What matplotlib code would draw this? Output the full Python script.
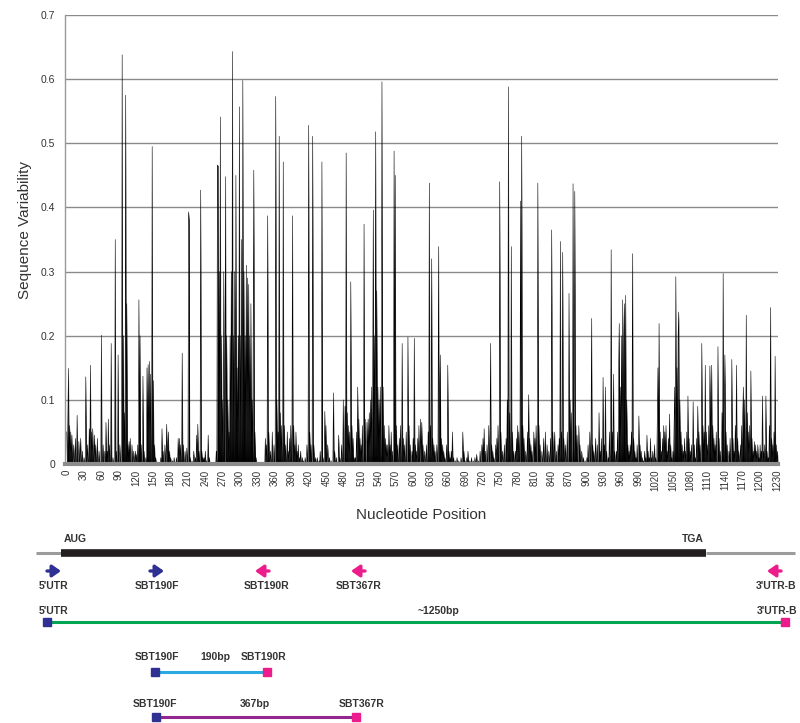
import matplotlib
matplotlib.use("Agg")
import matplotlib.pyplot as plt
import numpy as np

plt.rcParams["font.family"] = ["Liberation Sans", "DejaVu Sans"]

# Sequence variability as (nucleotide position, value).
# Positions not listed sit at ~0.
peaks_0_299 = [
    (0, 0.05), (2, 0.07), (3, 0.149), (5, 0.06), (7, 0.05), (9, 0.045), (12, 0.03), (15, 0.04),
    (18, 0.076), (21, 0.035), (24, 0.04), (27, 0.02), (30, 0.01), (33, 0.136), (36, 0.03),
    (39, 0.055), (41, 0.154), (43, 0.05), (45, 0.055), (48, 0.045), (50, 0.03), (53, 0.04),
    (56, 0.02), (60, 0.201), (63, 0.03), (66, 0.02), (68, 0.065), (70, 0.02), (72, 0.07),
    (74, 0.03), (77, 0.188), (80, 0.01), (84, 0.35), (86, 0.02), (89, 0.17), (92, 0.03),
    (96, 0.638), (98, 0.2), (100, 0.08), (102, 0.575), (104, 0.25), (106, 0.03), (108, 0.035),
    (110, 0.04), (113, 0.03), (116, 0.02), (119, 0.02), (121, 0.015), (123, 0.03), (125, 0.256),
    (127, 0.2), (129, 0.03), (132, 0.137), (134, 0.02), (137, 0.01), (139, 0.15), (141, 0.155),
    (143, 0.16), (145, 0.14), (148, 0.495), (150, 0.13), (152, 0.03), (154, 0.01), (163, 0.01),
    (165, 0.055), (167, 0.02), (170, 0.03), (173, 0.062), (175, 0.03), (176, 0.05), (178, 0.02),
    (180, 0.01), (183, 0.005), (186, 0.01), (190, 0.01), (193, 0.04), (195, 0.04), (197, 0.03),
    (200, 0.173), (202, 0.03), (205, 0.02), (208, 0.025), (211, 0.393), (212, 0.38), (214, 0.01),
    (217, 0.005), (220, 0.02), (223, 0.01), (225, 0.045), (227, 0.062), (229, 0.02), (232, 0.427),
    (234, 0.02), (236, 0.01), (238, 0.01), (240, 0.02), (242, 0.005), (245, 0.045), (247, 0.01),
    (259, 0.02), (261, 0.466), (262, 0.465), (264, 0.3), (266, 0.541), (268, 0.2), (270, 0.1),
    (272, 0.3), (275, 0.448), (277, 0.2), (279, 0.1), (281, 0.05), (283, 0.2), (285, 0.3),
    (287, 0.643), (289, 0.2), (291, 0.3), (293, 0.45), (295, 0.15), (297, 0.2), (299, 0.557),
]
peaks_300_599 = [
    (301, 0.2), (303, 0.35), (305, 0.598), (307, 0.3), (309, 0.2), (311, 0.31), (313, 0.29),
    (315, 0.28), (317, 0.2), (319, 0.25), (321, 0.1), (323, 0.2), (324, 0.458), (326, 0.05),
    (328, 0.01), (344, 0.04), (346, 0.03), (348, 0.387), (350, 0.05), (353, 0.02), (356, 0.05),
    (359, 0.03), (362, 0.573), (364, 0.1), (366, 0.05), (368, 0.511), (370, 0.08), (372, 0.06),
    (375, 0.471), (377, 0.06), (379, 0.03), (382, 0.05), (384, 0.02), (386, 0.04), (388, 0.06),
    (391, 0.387), (393, 0.06), (395, 0.03), (397, 0.05), (399, 0.02), (401, 0.03), (403, 0.01),
    (405, 0.02), (408, 0.01), (410, 0.005), (413, 0.01), (416, 0.03), (419, 0.528), (421, 0.05),
    (423, 0.03), (426, 0.511), (428, 0.03), (431, 0.01), (434, 0.01), (437, 0.005), (439, 0.02),
    (442, 0.471), (444, 0.01), (447, 0.082), (449, 0.06), (452, 0.03), (455, 0.01), (458, 0.005),
    (462, 0.111), (464, 0.02), (467, 0.01), (471, 0.045), (473, 0.01), (476, 0.03), (479, 0.1),
    (482, 0.09), (484, 0.485), (486, 0.08), (488, 0.06), (490, 0.05), (492, 0.284), (494, 0.06),
    (496, 0.04), (498, 0.01), (500, 0.01), (502, 0.05), (504, 0.12), (506, 0.07), (508, 0.04),
    (510, 0.03), (512, 0.06), (515, 0.374), (517, 0.07), (520, 0.065), (522, 0.07), (524, 0.08),
    (526, 0.1), (528, 0.12), (530, 0.15), (531, 0.396), (533, 0.2), (535, 0.518), (537, 0.27),
    (539, 0.12), (541, 0.1), (543, 0.12), (545, 0.15), (546, 0.596), (548, 0.12), (550, 0.06),
    (552, 0.04), (554, 0.03), (556, 0.03), (558, 0.06), (560, 0.03), (562, 0.05), (564, 0.02),
    (567, 0.488), (569, 0.45), (571, 0.06), (573, 0.03), (576, 0.04), (578, 0.06), (581, 0.188),
    (583, 0.04), (585, 0.03), (588, 0.05), (591, 0.198), (593, 0.06), (595, 0.03), (598, 0.02),
]
peaks_600_899 = [
    (600, 0.04), (602, 0.196), (604, 0.03), (606, 0.02), (608, 0.04), (610, 0.06), (613, 0.07),
    (615, 0.065), (617, 0.03), (620, 0.02), (623, 0.03), (626, 0.05), (628, 0.438), (630, 0.06),
    (632, 0.32), (634, 0.04), (636, 0.03), (638, 0.02), (641, 0.03), (644, 0.339), (646, 0.12),
    (647, 0.17), (649, 0.04), (651, 0.03), (653, 0.02), (655, 0.01), (658, 0.03), (660, 0.154),
    (662, 0.02), (664, 0.01), (666, 0.02), (668, 0.05), (670, 0.01), (673, 0.005), (676, 0.01),
    (679, 0.005), (683, 0.01), (686, 0.05), (688, 0.02), (690, 0.005), (693, 0.01), (695, 0.02),
    (698, 0.005), (701, 0.01), (704, 0.005), (707, 0.01), (710, 0.015), (713, 0.005), (716, 0.02),
    (719, 0.03), (721, 0.04), (723, 0.055), (725, 0.02), (728, 0.03), (731, 0.06), (734, 0.188),
    (736, 0.03), (738, 0.02), (740, 0.01), (743, 0.03), (745, 0.04), (747, 0.06), (750, 0.44),
    (752, 0.05), (755, 0.02), (758, 0.03), (761, 0.04), (763, 0.1), (765, 0.588), (767, 0.08),
    (770, 0.339), (772, 0.05), (774, 0.02), (777, 0.02), (779, 0.04), (781, 0.06), (783, 0.05),
    (786, 0.41), (788, 0.511), (790, 0.06), (792, 0.04), (795, 0.02), (798, 0.05), (800, 0.108),
    (802, 0.04), (804, 0.03), (806, 0.02), (809, 0.05), (811, 0.04), (813, 0.06), (816, 0.438),
    (818, 0.06), (820, 0.03), (823, 0.02), (826, 0.04), (829, 0.05), (832, 0.03), (835, 0.02),
    (838, 0.04), (840, 0.365), (842, 0.05), (845, 0.05), (848, 0.02), (851, 0.03), (853, 0.04),
    (855, 0.347), (857, 0.05), (859, 0.33), (861, 0.04), (864, 0.03), (867, 0.05), (870, 0.266),
    (872, 0.1), (874, 0.08), (877, 0.437), (879, 0.1), (880, 0.425), (882, 0.06), (884, 0.045),
    (887, 0.06), (889, 0.03), (892, 0.02), (895, 0.01), (898, 0.005),
]
peaks_900_1235 = [
    (901, 0.01), (903, 0.03), (906, 0.05), (909, 0.227), (911, 0.03), (913, 0.02), (916, 0.04),
    (919, 0.03), (922, 0.08), (924, 0.02), (926, 0.04), (929, 0.135), (931, 0.03), (933, 0.12),
    (935, 0.02), (938, 0.01), (940, 0.05), (943, 0.334), (945, 0.05), (947, 0.14), (949, 0.02),
    (952, 0.02), (954, 0.05), (956, 0.15), (957, 0.219), (959, 0.12), (961, 0.2), (963, 0.256),
    (965, 0.2), (966, 0.25), (968, 0.263), (970, 0.1), (972, 0.03), (974, 0.02), (976, 0.03),
    (978, 0.05), (980, 0.328), (982, 0.04), (984, 0.02), (986, 0.01), (988, 0.03), (991, 0.075),
    (993, 0.03), (995, 0.02), (997, 0.01), (999, 0.005), (1001, 0.02), (1003, 0.01), (1005, 0.045),
    (1007, 0.02), (1009, 0.01), (1011, 0.04), (1013, 0.01), (1015, 0.02), (1018, 0.03),
    (1020, 0.01), (1023, 0.08), (1024, 0.15), (1026, 0.219), (1028, 0.05), (1030, 0.02),
    (1032, 0.04), (1034, 0.06), (1036, 0.05), (1038, 0.06), (1040, 0.02), (1042, 0.04),
    (1044, 0.078), (1046, 0.03), (1048, 0.01), (1050, 0.02), (1052, 0.06), (1053, 0.12),
    (1055, 0.292), (1057, 0.15), (1059, 0.2), (1060, 0.237), (1062, 0.1), (1064, 0.05),
    (1066, 0.03), (1068, 0.02), (1070, 0.04), (1072, 0.02), (1074, 0.05), (1076, 0.106),
    (1078, 0.04), (1080, 0.02), (1082, 0.03), (1085, 0.097), (1087, 0.03), (1089, 0.01),
    (1091, 0.04), (1093, 0.09), (1095, 0.05), (1097, 0.03), (1100, 0.188), (1102, 0.06),
    (1104, 0.05), (1106, 0.154), (1108, 0.05), (1110, 0.03), (1112, 0.06), (1114, 0.153),
    (1115, 0.08), (1117, 0.154), (1119, 0.06), (1121, 0.04), (1123, 0.03), (1125, 0.05),
    (1128, 0.183), (1130, 0.04), (1132, 0.02), (1135, 0.08), (1137, 0.297), (1139, 0.1),
    (1140, 0.17), (1142, 0.05), (1144, 0.03), (1147, 0.02), (1149, 0.04), (1152, 0.163),
    (1154, 0.04), (1156, 0.02), (1158, 0.06), (1160, 0.154), (1162, 0.04), (1164, 0.02),
    (1167, 0.03), (1169, 0.06), (1171, 0.08), (1172, 0.12), (1174, 0.1), (1177, 0.232),
    (1179, 0.08), (1181, 0.05), (1183, 0.06), (1185, 0.145), (1187, 0.04), (1189, 0.02),
    (1191, 0.035), (1193, 0.03), (1195, 0.02), (1197, 0.03), (1199, 0.01), (1201, 0.03),
    (1203, 0.02), (1205, 0.106), (1207, 0.02), (1209, 0.03), (1211, 0.106), (1213, 0.02),
    (1215, 0.01), (1217, 0.06), (1219, 0.244), (1221, 0.04), (1223, 0.03), (1225, 0.05),
    (1227, 0.168), (1229, 0.03), (1231, 0.02),
]
n_positions = 1236

x_ticks = list(range(0, 1231, 30))
y_ticks = [0.0, 0.1, 0.2, 0.3, 0.4, 0.5, 0.6, 0.7]
y_tick_labels = ["0", "0.1", "0.2", "0.3", "0.4", "0.5", "0.6", "0.7"]

# primer map below the chart
primer_names = ["5'UTR", "SBT190F", "SBT190R", "SBT367R", "3'UTR-B"]
primer_forward = [True, True, False, False, False]
amplicons = [("5'UTR", "~1250bp", "3'UTR-B"), ("SBT190F", "190bp", "SBT190R"),
             ("SBT190F", "367bp", "SBT367R")]

BLUE = "#2e3192"
PINK = "#ec1c8c"
TEXT = "#333333"

variability = np.zeros(n_positions)
for pos, val in peaks_0_299 + peaks_300_599 + peaks_600_899 + peaks_900_1235:
    variability[pos] = val
positions = np.arange(n_positions)

W, H = 800, 723
fig = plt.figure(figsize=(W / 100, H / 100), dpi=100)
ax = fig.add_axes([65 / W, 1 - 464 / H, 713 / W, 449 / H])

ax.fill_between(positions, variability, 0, color="black", lw=0)
ax.plot(positions, variability, color="black", lw=0.4)

ax.set_xlim(-3, 1232)
ax.set_ylim(0, 0.7)
ax.set_yticks(y_ticks)
ax.set_yticklabels(y_tick_labels, fontsize=7.5, color=TEXT)
ax.set_xticks(x_ticks)
ax.set_xticklabels([str(t) for t in x_ticks], rotation=90, fontsize=7, color=TEXT)
ax.tick_params(axis="both", length=0)
ax.tick_params(axis="y", pad=7)
ax.tick_params(axis="x", pad=4)
ax.grid(axis="y", color="#8a8a8a", lw=1)
ax.set_axisbelow(True)
for side in ("top", "right"):
    ax.spines[side].set_visible(False)
ax.spines["left"].set_color("#999999")
ax.spines["left"].set_linewidth(1)
ax.spines["bottom"].set_color("#8c8c8c")
ax.spines["bottom"].set_linewidth(3)
ax.spines["bottom"].set_zorder(5)

fig.text(25 / W, 1 - 230 / H, "Sequence Variability", rotation=90, ha="center",
         va="center", fontsize=11, color=TEXT)
fig.text(421 / W, 1 - 515 / H, "Nucleotide Position", ha="center", va="center",
         fontsize=11, color=TEXT)

# schematic overlay in pixel coordinates
ov = fig.add_axes([0, 0, 1, 1])
ov.set_xlim(0, W)
ov.set_ylim(H, 0)
ov.axis("off")
ov.patch.set_alpha(0)

bold = dict(fontsize=7.5, fontweight="bold", color=TEXT, ha="center", va="center")

# gene body
ov.plot([36, 61], [552.5, 552.5], color="#9b9b9b", lw=2.2, solid_capstyle="butt")
ov.plot([61, 706], [552.5, 552.5], color="#231f20", lw=5.5, solid_capstyle="butt")
ov.plot([706, 795], [552.5, 552.5], color="#9b9b9b", lw=2.2, solid_capstyle="butt")
ov.text(75, 539, "AUG", **bold)
ov.text(693, 539, "TGA", **bold)

# primer arrows
arrow_x = [54, 157, 262, 358, 774]
label_x = [54, 157, 267, 359, 776]
for name, fwd, ax_x, lx in zip(primer_names, primer_forward, arrow_x, label_x):
    color = BLUE if fwd else PINK
    x0, x1 = (ax_x - 7, ax_x + 7) if fwd else (ax_x + 7, ax_x - 7)
    ov.annotate("", xy=(x1, 571), xytext=(x0, 571),
                arrowprops=dict(arrowstyle="-|>,head_width=0.35,head_length=0.5",
                                color=color, lw=2.4, shrinkA=0, shrinkB=0))
    ov.text(lx, 586, name, **bold)

# amplicons
amp_rows = [
    dict(y=622, x0=47, x1=785, color="#00a651", lab_y=611, lx=(54, 438, 777)),
    dict(y=672, x0=155, x1=267, color="#29abe2", lab_y=657, lx=(157, 215, 264)),
    dict(y=717, x0=156, x1=356, color="#92278f", lab_y=704, lx=(155, 255, 362)),
]
for (left, size, right), row in zip(amplicons, amp_rows):
    ov.plot([row["x0"], row["x1"]], [row["y"], row["y"]], color=row["color"], lw=2.2,
            solid_capstyle="butt", zorder=2)
    ov.plot([row["x0"]], [row["y"]], marker="s", ms=5.5, color=BLUE, zorder=3)
    ov.plot([row["x1"]], [row["y"]], marker="s", ms=5.5, color=PINK, zorder=3)
    ov.text(row["lx"][0], row["lab_y"], left, **bold)
    ov.text(row["lx"][1], row["lab_y"], size, **bold)
    ov.text(row["lx"][2], row["lab_y"], right, **bold)

fig.savefig("out.png", dpi=100)
